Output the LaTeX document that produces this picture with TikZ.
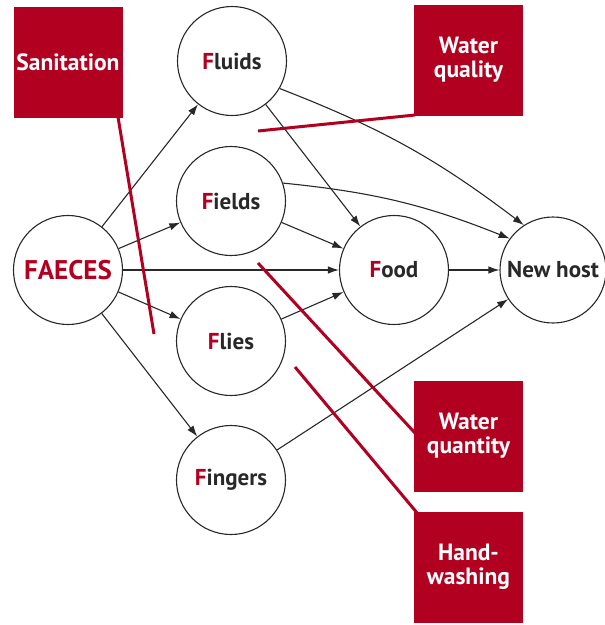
\documentclass[tikz,border=0pt]{standalone}
\usepackage{fontspec}
\setmainfont{PT Sans}
\usetikzlibrary{arrows.meta}
\definecolor{fred}{RGB}{178,0,32}
\definecolor{lineblack}{RGB}{40,40,40}
\begin{document}
\begin{tikzpicture}[x=1pt,y=-1pt,
  fnode/.style={circle,draw=lineblack,line width=1.1pt,minimum size=109pt,inner sep=0pt,font=\bfseries\fontsize{23}{25}\selectfont,text=lineblack},
  redbox/.style={fill=fred,minimum width=109pt,minimum height=111pt,inner sep=0pt,align=center,text=white,font=\bfseries\fontsize{23.5}{24}\selectfont},
  conn/.style={draw=lineblack,line width=1.1pt,-{Latex[length=11pt,width=7.5pt]}},
  redline/.style={draw=fred,line width=3pt}]
\useasboundingbox (0,0) rectangle (605,625);
% nodes
\node[fnode,text=fred,font=\bfseries\fontsize{27}{29}\selectfont] (faeces) at (68,270) {FAECES};
\node[fnode] (fluids) at (232,61) {\textcolor{fred}{F}luids};
\node[fnode] (fields) at (231,201) {\textcolor{fred}{F}ields};
\node[fnode] (flies) at (231,341) {\textcolor{fred}{F}lies};
\node[fnode] (fingers) at (231,480) {\textcolor{fred}{F}ingers};
\node[fnode] (food) at (394,270) {\textcolor{fred}{F}ood};
\node[fnode,minimum size=106pt] (host) at (553,270) {New host};
% boxes
\node[redbox] (san) at (68,62.5) {Sanitation};
\node[redbox] (wql) at (468.5,60) {Water\\quality};
\node[redbox] (wqn) at (468.5,436) {Water\\quantity};
\node[redbox] (hw) at (468.5,567) {Hand-\\washing};
% connectors
\draw[conn] (faeces) -- (fluids);
\draw[conn] (faeces) -- (fields);
\draw[conn] (faeces) -- (food);
\draw[conn] (faeces) -- (flies);
\draw[conn] (faeces) -- (fingers);
\draw[conn] (fluids) -- (food);
\draw[conn] (fields) -- (food);
\draw[conn] (flies) -- (food);
\draw[conn] (food) -- (host);
\draw[conn] (fingers) -- (host);
\draw[conn] (fluids.-30) to[bend left=8] (host.123);
\draw[conn] (fields.19) to[bend left=8] (host.144);
% red lines
\coordinate (sanA) at (118,117);
\coordinate (sanB) at (154,334);
\coordinate (wqlA) at (415,115);
\coordinate (wqlB) at (258,131);
\coordinate (wqnA) at (415,433);
\coordinate (wqnB) at (258,263);
\coordinate (hwA) at (418,514);
\coordinate (hwB) at (295,367);
\draw[redline] (sanA) -- (sanB);
\draw[redline] (wqlA) -- (wqlB);
\draw[redline] (wqnA) -- (wqnB);
\draw[redline] (hwA) -- (hwB);
\end{tikzpicture}
\end{document}
